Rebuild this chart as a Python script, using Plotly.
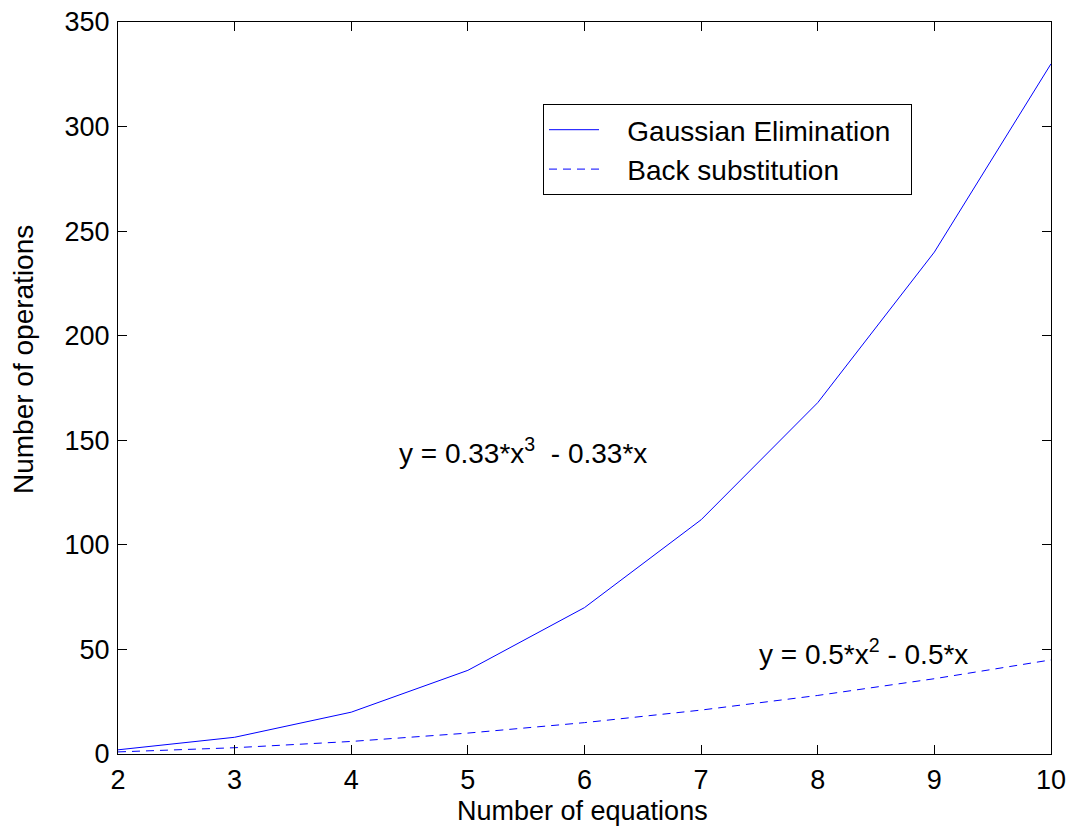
import plotly.graph_objects as go

x_vals = [2, 3, 4, 5, 6, 7, 8, 9, 10]
gauss_ops = [2, 8, 20, 40, 70, 112, 168, 240, 330]
back_ops = [1, 3, 6, 10, 15, 21, 28, 36, 45]
x_ticks = [2, 3, 4, 5, 6, 7, 8, 9, 10]
y_ticks = [0, 50, 100, 150, 200, 250, 300, 350]

FONT = "Liberation Sans, Arial, sans-serif"
FS = 27
NB = "\u00a0"

fig = go.Figure()
fig.add_trace(go.Scatter(x=x_vals, y=gauss_ops, mode="lines",
                         name=NB * 3 + "Gaussian Elimination" + NB * 2,
                         line=dict(color="#0000ff", width=1)))
fig.add_trace(go.Scatter(x=x_vals, y=back_ops, mode="lines",
                         name=NB * 3 + "Back substitution",
                         line=dict(color="#0000ff", width=1, dash="8px,6px")))

axis_common = dict(showline=True, linecolor="black", linewidth=1, mirror="ticks",
                   ticks="inside", ticklen=9, tickcolor="black", showgrid=False,
                   zeroline=False, automargin=False,
                   tickfont=dict(size=FS, color="black", family=FONT))

fig.update_xaxes(range=[2, 10], tickvals=x_ticks, ticklabelstandoff=2, **axis_common)
fig.update_yaxes(range=[0, 350], tickvals=y_ticks, ticklabelstandoff=2, **axis_common)

L, R, T, B = 118, 21, 22, 73
W, H = 1072, 827
pw, ph = W - L - R, H - T - B

# axis titles (positions given in pixels, converted to paper coords)
fig.add_annotation(x=(582 - L) / pw, y=(H - B - 811) / ph, xref="paper", yref="paper",
                   xanchor="center", yanchor="middle", text="Number of equations",
                   showarrow=False, font=dict(size=FS, color="black", family=FONT))
fig.add_annotation(x=(24 - L) / pw, y=(H - B - 360) / ph, xref="paper", yref="paper",
                   xanchor="center", yanchor="middle", text="Number of operations",
                   showarrow=False, textangle=-90, font=dict(size=28, color="black", family=FONT))

fig.add_annotation(x=4.39, y=145, xref="x", yref="y", xanchor="left", yanchor="middle",
                   text="y = 0.33*x<sup>3</sup>  - 0.33*x", showarrow=False,
                   font=dict(size=28, color="black", family=FONT))
fig.add_annotation(x=7.48, y=49, xref="x", yref="y", xanchor="left", yanchor="middle",
                   text="y = 0.5*x<sup>2</sup> - 0.5*x", showarrow=False,
                   font=dict(size=28, color="black", family=FONT))

fig.update_layout(
    width=W, height=H,
    margin=dict(l=L, r=R, t=T, b=B),
    paper_bgcolor="white", plot_bgcolor="white",
    font=dict(family=FONT, size=FS, color="black"),
    showlegend=True,
    legend=dict(x=(543 - L) / pw, y=(H - B - 104) / ph, xanchor="left", yanchor="top",
                bordercolor="black", borderwidth=1, bgcolor="white",
                itemwidth=50, font=dict(size=28, color="black", family=FONT),
                tracegroupgap=0),
)

fig.write_html("out.html", config={"displayModeBar": False},
               post_script="document.body.style.margin='0';document.body.style.overflow='hidden';")
